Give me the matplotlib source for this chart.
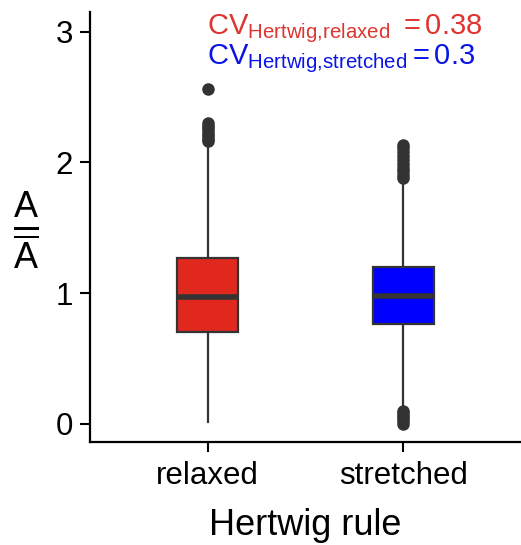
import matplotlib
matplotlib.use("Agg")
import matplotlib.pyplot as plt

plt.rcParams['font.family'] = ['Liberation Sans', 'DejaVu Sans']
plt.rcParams['mathtext.fontset'] = 'custom'
plt.rcParams['mathtext.rm'] = 'Liberation Sans'
plt.rcParams['mathtext.it'] = 'Liberation Sans'
plt.rcParams['mathtext.sf'] = 'Liberation Sans'

# Box statistics per Hertwig rule condition
categories = ["relaxed", "stretched"]
q1 = [0.70, 0.76]
median = [0.97, 0.98]
q3 = [1.27, 1.20]
whisker_low = [0.01, 0.12]
whisker_high = [2.13, 1.86]
outliers = [
    [2.16, 2.18, 2.20, 2.22, 2.24, 2.26, 2.28, 2.30, 2.56],
    [0.00, 0.02, 0.04, 0.06, 0.08, 0.10,
     1.88, 1.90, 1.93, 1.96, 1.99, 2.02, 2.05, 2.08, 2.11, 2.13],
]
fill_colors = ["#E0281E", "#0000FF"]
cv_values = [0.38, 0.3]
cv_colors = ["#DE3530", "#0A14E6"]
yticks = [0, 1, 2, 3]

fig = plt.figure(figsize=(5.21, 5.45), dpi=100)
ax = fig.add_axes([90 / 521, 1 - 442 / 545, 431 / 521, 430 / 545])

stats = []
for i, c in enumerate(categories):
    stats.append(dict(label=c, q1=q1[i], med=median[i], q3=q3[i],
                      whislo=whisker_low[i], whishi=whisker_high[i],
                      fliers=outliers[i]))

edge = "#333333"
bp = ax.bxp(stats, positions=[1, 2], widths=0.31, patch_artist=True,
            showcaps=False,
            boxprops=dict(edgecolor=edge, linewidth=1.6),
            medianprops=dict(color=edge, linewidth=4),
            whiskerprops=dict(color=edge, linewidth=1.6),
            flierprops=dict(marker='o', markerfacecolor=edge, markeredgecolor=edge,
                            markersize=8))
for patch, col in zip(bp['boxes'], fill_colors):
    patch.set_facecolor(col)

ax.set_xlim(0.4, 2.6)
ax.set_ylim(-0.14, 3.15)
ax.set_yticks(yticks)
ax.set_yticklabels([str(t) for t in yticks])
ax.set_xticks([1, 2])
ax.set_xticklabels(categories)
ax.tick_params(axis='both', labelsize=22.5, width=1.5, length=7, color='black', labelcolor='black')
ax.tick_params(axis='x', pad=7)
ax.tick_params(axis='y', pad=5)
for s in ['top', 'right']:
    ax.spines[s].set_visible(False)
for s in ['left', 'bottom']:
    ax.spines[s].set_linewidth(1.6)

ax.set_xlabel("Hertwig rule", fontsize=26, labelpad=12)
ax.set_ylabel(r"$\frac{A}{\overline{A}}$", fontsize=37, rotation=0, va='center')
ax.yaxis.set_label_coords(-0.148, 0.49)

labels = [r"$\mathrm{CV}_{\mathrm{Hertwig{,}relaxed}}\ =%s$" % cv_values[0],
          r"$\mathrm{CV}_{\mathrm{Hertwig{,}stretched}}=%s$" % cv_values[1]]
fig.text(207 / 521, 1 - 29 / 545, labels[0], color=cv_colors[0], fontsize=21, va='center', ha='left')
fig.text(207 / 521, 1 - 59 / 545, labels[1], color=cv_colors[1], fontsize=21, va='center', ha='left')

fig.savefig("out.png", dpi=100)
